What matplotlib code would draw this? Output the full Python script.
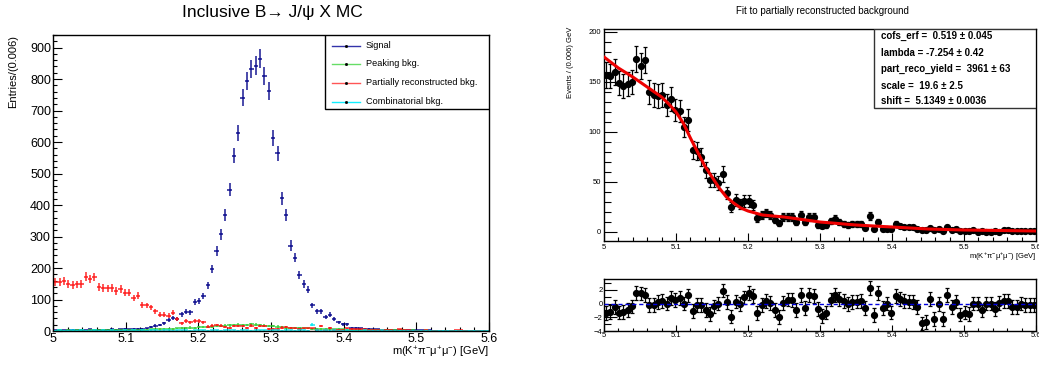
import numpy as np
import matplotlib
matplotlib.use("Agg")
import matplotlib.pyplot as plt
from matplotlib.patches import Rectangle
from matplotlib.lines import Line2D
from matplotlib.ticker import MultipleLocator

plt.rcParams['font.family'] = ['Liberation Sans', 'DejaVu Sans']
plt.rcParams['mathtext.fontset'] = 'custom'
plt.rcParams['mathtext.rm'] = 'Liberation Sans'
plt.rcParams['mathtext.it'] = 'Liberation Sans:italic'
plt.rcParams['mathtext.default'] = 'regular'

# ---------------- data ----------------
bin_edges = np.linspace(5.0, 5.6, 101)
bin_centers = 0.5 * (bin_edges[:-1] + bin_edges[1:])

signal = [2, 3, 2, 3, 4, 3, 4, 3, 5, 3,
          4, 3, 4, 5, 4, 5, 6, 5, 6, 6,
          7, 8, 12, 17, 19, 25, 34, 40, 39, 53,
          61, 60, 92, 95, 111, 145, 197, 255, 307, 369,
          449, 556, 629, 741, 793, 833, 843, 865, 809, 762,
          612, 564, 422, 367, 271, 233, 177, 149, 131, 81,
          62, 62, 45, 52, 39, 27, 22, 22, 10, 9,
          8, 7, 6, 5, 5, 4, 4, 3, 3, 3,
          2, 3, 2, 2, 2, 1, 2, 1, 1, 1,
          1, 1, 1, 1, 0, 1, 1, 0, 1, 0]

peaking = [1, 2, 1, 2, 1, 2, 2, 1, 2, 2,
           2, 3, 2, 3, 3, 2, 3, 3, 4, 3,
           4, 4, 5, 5, 6, 6, 7, 6, 8, 9,
           10, 11, 10, 12, 13, 12, 14, 15, 16, 17,
           18, 19, 20, 18, 19, 21, 20, 19, 17, 16,
           15, 14, 12, 11, 10, 10, 9, 8, 8, 7,
           7, 6, 6, 5, 5, 6, 5, 4, 4, 3,
           4, 3, 3, 3, 2, 3, 2, 2, 2, 2,
           2, 1, 2, 1, 1, 2, 1, 1, 1, 1,
           1, 1, 0, 1, 1, 0, 1, 1, 0, 1]

part_reco = [157, 156, 160, 149, 146, 148, 150, 173, 166, 172,
             140, 137, 136, 137, 127, 133, 122, 121, 105, 112,
             82, 81, 75, 62, 52, 52, 49, 58, 39, 25,
             32, 28, 31, 31, 27, 14, 17, 19, 17, 12,
             9, 15, 15, 15, 10, 17, 10, 15, 15, 7,
             6, 7, 11, 13, 10, 8, 7, 8, 8, 8,
             4, 16, 3, 10, 3, 3, 3, 8, 6, 5,
             5, 5, 3, 2, 2, 4, 2, 3, 1, 5,
             2, 3, 1, 1, 1, 2, 0, 1, 0, 0,
             1, 0, 2, 2, 1, 1, 1, 1, 1, 1]

combinatorial = [1, 2, 1, 1, 2, 1, 2, 1, 1, 2,
                 1, 2, 1, 2, 1, 1, 2, 1, 2, 1,
                 2, 1, 2, 2, 1, 2, 2, 1, 2, 2,
                 2, 1, 2, 2, 2, 1, 2, 2, 1, 2,
                 2, 2, 1, 2, 2, 1, 2, 2, 2, 1,
                 2, 2, 1, 2, 2, 1, 2, 2, 1, 20,
                 2, 1, 2, 1, 2, 1, 1, 2, 1, 1,
                 1, 2, 1, 1, 1, 2, 1, 1, 1, 1,
                 1, 1, 1, 0, 1, 1, 1, 0, 1, 1,
                 1, 0, 1, 1, 0, 1, 1, 0, 1, 1]

pulls = [-1.4, -1.2, -0.5, -1.3, -1.2, -0.9, -0.4, 1.6, 1.5, 1.3,
         -0.2, -0.2, 0.2, 0.4, 0.0, 0.8, 0.5, 0.8, 0.0, 1.2,
         -1.1, -0.2, -0.2, -0.9, -1.5, -0.4, 0.0, 1.9, 0.2, -1.9,
         0.3, -0.1, 0.9, 1.6, 1.1, -1.4, -0.2, 0.4, 0.1, -0.9,
         -2.0, 0.1, 0.6, 0.5, -0.9, 1.3, -0.6, 1.3, 1.1, -0.8,
         -1.8, -1.3, 0.6, 1.3, 0.7, 0.4, -0.1, 0.2, 0.3, 0.4,
         -0.6, 2.3, -1.7, 1.6, -0.6, 0.0, -1.3, 1.1, 0.7, 0.4,
         0.3, 0.2, -0.5, -2.9, -2.7, 0.7, -2.2, -0.1, -2.2, 1.3,
         -0.5, 0.3, -1.6, -1.3, -1.5, 0.0, 0.0, -1.0, 0.0, 0.0,
         -0.8, 0.1, 0.4, 0.4, -0.5, -0.5, 0.0, -0.2, -0.2, -0.2]

fit_x = [5.00, 5.02, 5.04, 5.06, 5.08, 5.09, 5.10, 5.11, 5.12, 5.13,
         5.14, 5.15, 5.16, 5.17, 5.18, 5.19, 5.20, 5.22, 5.25, 5.30,
         5.35, 5.40, 5.45, 5.50, 5.55, 5.60]
fit_y = [175, 164, 155, 145, 135, 128, 120, 109, 94, 80,
         66, 55, 44, 35, 29, 24, 21, 17, 15, 10,
         7, 5, 3, 2, 1.5, 1]

legend_labels = ["Signal", "Peaking bkg.", "Partially reconstructed bkg.", "Combinatorial bkg."]
fit_params = ["cofs_erf =  0.519 \u00b1 0.045",
              "lambda = -7.254 \u00b1 0.42",
              "part_reco_yield =  3961 \u00b1 63",
              "scale =  19.6 \u00b1 2.5",
              "shift =  5.1349 \u00b1 0.0036"]

xlabel = r'm(K$^{+}$π$^{-}$μ$^{+}$μ$^{-}$) [GeV]'

# ---------------- figure ----------------
W, H = 1039, 365
fig = plt.figure(figsize=(W / 100, H / 100), dpi=100)

def axrect(x0, y0, x1, y1):
    return [x0 / W, 1 - y1 / H, (x1 - x0) / W, (y1 - y0) / H]

def style_axes(ax, majlen, minlen, labsize, pad=1.5):
    ax.tick_params(which='both', direction='in', top=False, right=False,
                   labelsize=labsize, pad=pad, width=0.8)
    ax.tick_params(which='major', length=majlen)
    ax.tick_params(which='minor', length=minlen)
    for s in ax.spines.values():
        s.set_linewidth(1.0)

# ----- left panel -----
axL = fig.add_axes(axrect(53, 35, 489, 331))
colors = ['#000088', '#33cc33', '#ff1111', '#00e5ee']
series = [signal, peaking, part_reco, combinatorial]
for vals, c in zip(series, colors):
    v = np.array(vals, dtype=float)
    axL.errorbar(bin_centers, v, xerr=0.003, yerr=np.sqrt(v), fmt='none',
                 ecolor=c, elinewidth=1.1, capsize=0, alpha=0.9)
axL.set_xlim(5.0, 5.6)
axL.set_ylim(0, 940)
axL.xaxis.set_major_locator(MultipleLocator(0.1))
axL.xaxis.set_minor_locator(MultipleLocator(0.02))
axL.yaxis.set_major_locator(MultipleLocator(100))
axL.yaxis.set_minor_locator(MultipleLocator(20))
style_axes(axL, 6.5, 3.2, 9)
axL.set_xticklabels([f"{t:g}" for t in axL.get_xticks()])

fig.text(272 / W, 1 - 13 / H, "Inclusive B\u2192 J/\u03c8 X MC", ha='center', va='center', fontsize=12.5)
fig.text(13 / W, 1 - 35 / H, "Entries/(0.006)", rotation=90, ha='center', va='top', fontsize=8)
fig.text(489 / W, 1 - 352 / H, xlabel, ha='right', va='center', fontsize=8)

# legend (manual)
axL.add_patch(Rectangle(((325 - 53) / 436, (331 - 109) / 296), (489 - 325) / 436, (109 - 35) / 296,
                        transform=axL.transAxes, fill=True, facecolor='white',
                        edgecolor='black', lw=1.0, zorder=5))
leg_colors = ['#3333aa', '#66dd66', '#ff5555', '#11eeff']
leg_y = [45.5, 63.5, 82.5, 101.5]
for lab, c, yy in zip(legend_labels, leg_colors, leg_y):
    yax = (331 - yy) / 296
    x0 = (332 - 53) / 436
    x1 = (360 - 53) / 436
    axL.add_line(Line2D([x0, x1], [yax, yax], transform=axL.transAxes, color=c, lw=1.0, zorder=6))
    axL.add_line(Line2D([(x0 + x1) / 2], [yax], transform=axL.transAxes, color='black',
                        marker='s', markersize=1.0, lw=0, zorder=7))
    axL.text((366 - 53) / 436, yax, lab, transform=axL.transAxes, fontsize=6.6,
             va='center', ha='left', zorder=7)

# ----- right top panel -----
axR = fig.add_axes(axrect(604, 29, 1036, 241))
pr = np.array(part_reco, dtype=float)
axR.errorbar(bin_centers, pr, yerr=np.sqrt(pr), fmt='o', color='black', markersize=4.2,
             ecolor='black', elinewidth=0.9, capsize=1.3, capthick=0.9, zorder=3)
axR.plot(fit_x, fit_y, color='#ee0000', lw=2.2, zorder=4)
axR.set_xlim(5.0, 5.6)
axR.set_ylim(-9, 203)
axR.xaxis.set_major_locator(MultipleLocator(0.1))
axR.xaxis.set_minor_locator(MultipleLocator(0.02))
axR.yaxis.set_major_locator(MultipleLocator(50))
axR.yaxis.set_minor_locator(MultipleLocator(10))
style_axes(axR, 9.5, 5, 5.5, pad=2)
axR.tick_params(axis='x', which='major', length=6)
axR.tick_params(axis='x', which='minor', length=3)
axR.set_xticklabels([f"{t:g}" for t in axR.get_xticks()])

fig.text(822 / W, 1 - 11 / H, "Fit to partially reconstructed background", ha='center', va='center', fontsize=7)
fig.text(570 / W, 1 - 27 / H, "Events / (0.006) GeV", rotation=90, ha='center', va='top', fontsize=5.5)
fig.text(1036 / W, 1 - 257 / H, xlabel, ha='right', va='center', fontsize=5.5)

axR.add_patch(Rectangle(((874 - 604) / 432, (241 - 108) / 212), (1036 - 874) / 432, (108 - 29) / 212,
                        transform=axR.transAxes, fill=True, facecolor='white',
                        edgecolor='#333333', lw=1.0, zorder=5))
for txt, yy in zip(fit_params, [36, 53, 69, 86, 101]):
    axR.text((881 - 604) / 432, (241 - yy) / 212, txt, transform=axR.transAxes, fontsize=7.0,
             fontweight='bold', va='center', ha='left', zorder=6)

# ----- pull panel -----
axP = fig.add_axes(axrect(604, 279, 1036, 331))
pv = np.array(pulls)
axP.errorbar(bin_centers, pv, yerr=np.ones_like(pv), fmt='o', color='black', markersize=4.2,
             ecolor='black', elinewidth=0.9, capsize=1.3, capthick=0.9, zorder=3)
axP.axhline(0, color='#0000dd', lw=1.0, ls=(0, (3, 2)), zorder=4)
axP.set_xlim(5.0, 5.6)
axP.set_ylim(-4, 3.6)
axP.xaxis.set_major_locator(MultipleLocator(0.1))
axP.xaxis.set_minor_locator(MultipleLocator(0.02))
axP.yaxis.set_major_locator(MultipleLocator(2))
axP.yaxis.set_minor_locator(MultipleLocator(1))
style_axes(axP, 9.5, 5, 5.5, pad=1)
axP.tick_params(axis='x', which='major', length=4.5)
axP.tick_params(axis='x', which='minor', length=2.5)
axP.set_xticklabels([f"{t:g}" for t in axP.get_xticks()])
axP.set_yticklabels([f"{t:g}".replace('-', '\u2212') for t in axP.get_yticks()])

fig.savefig("out.png", dpi=100)
